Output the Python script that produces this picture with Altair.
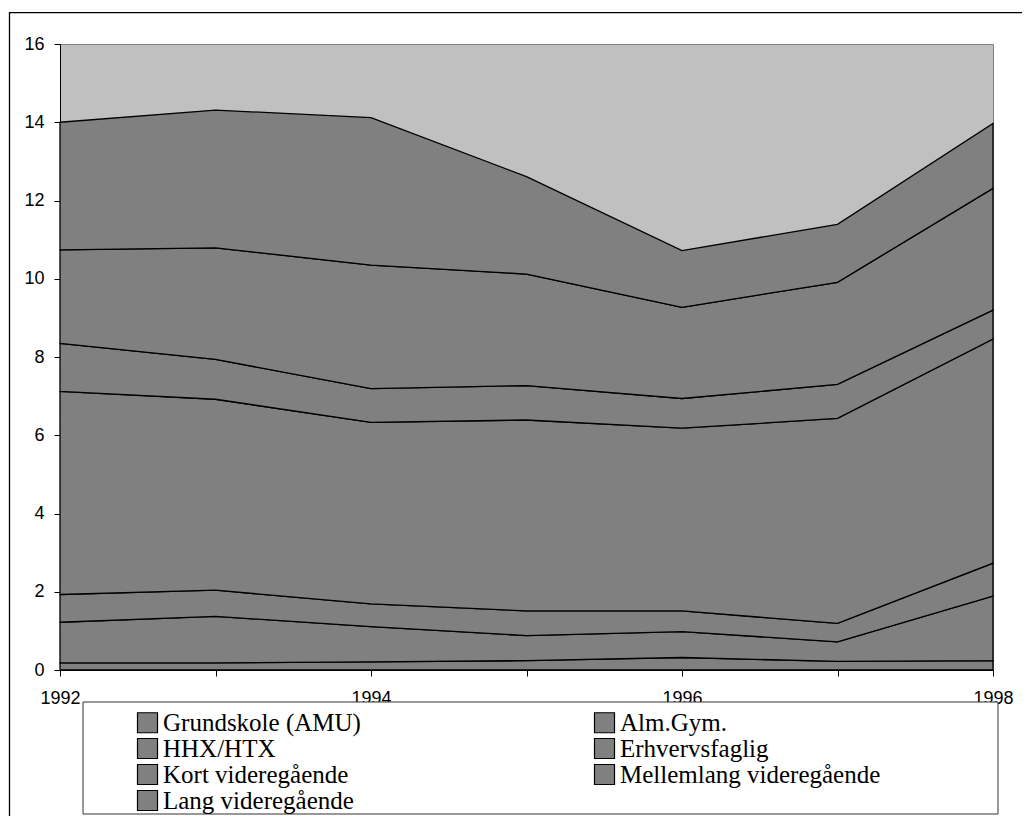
import altair as alt
import pandas as pd

years = [1992, 1993, 1994, 1995, 1996, 1997, 1998]
series = [
    "Grundskole (AMU)",
    "Alm.Gym.",
    "HHX/HTX",
    "Erhvervsfaglig",
    "Kort videregående",
    "Mellemlang videregående",
    "Lang videregående",
]
grundskole = [0.18, 0.18, 0.21, 0.24, 0.32, 0.22, 0.24]
alm_gym = [1.04, 1.19, 0.90, 0.64, 0.66, 0.50, 1.65]
hhx_htx = [0.71, 0.67, 0.58, 0.63, 0.53, 0.47, 0.84]
erhvervsfaglig = [5.19, 4.88, 4.64, 4.88, 4.67, 5.24, 5.73]
kort = [1.23, 1.02, 0.86, 0.88, 0.76, 0.87, 0.74]
mellemlang = [2.39, 2.85, 3.16, 2.85, 2.33, 2.61, 3.11]
lang = [3.26, 3.52, 3.77, 2.49, 1.45, 1.48, 1.66]
y_ticks = [0, 2, 4, 6, 8, 10, 12, 14, 16]

all_values = [grundskole, alm_gym, hhx_htx, erhvervsfaglig, kort, mellemlang, lang]
rows = []
for i, (name, vals) in enumerate(zip(series, all_values)):
    for yr, v in zip(years, vals):
        rows.append({"year": yr, "series": name, "value": v, "idx": i})
df = pd.DataFrame(rows)

one = pd.DataFrame({"a": [0]})

outer = alt.Chart(one).mark_rect(fillOpacity=0, stroke="black", strokeWidth=1.3).encode(
    x=alt.value(-50.5), x2=alt.value(1000), y=alt.value(-31.3), y2=alt.value(820)
)

area = alt.Chart(df).mark_area(stroke="black", strokeWidth=1.3, opacity=1).encode(
    x=alt.X(
        "year:Q",
        title=None,
        scale=alt.Scale(domain=[1992, 1998], nice=False, zero=False),
        axis=alt.Axis(
            values=years,
            format="d",
            labelExpr="datum.value % 2 == 0 ? datum.label : ''",
            grid=False,
            tickSize=6,
            labelPadding=13,
            labelFont="Liberation Sans",
            labelFontSize=18,
            labelColor="black",
            domainColor="black",
            tickColor="black",
            labelFlush=False,
            labelOverlap=False,
            labelBound=False,
        ),
    ),
    y=alt.Y(
        "value:Q",
        title=None,
        stack="zero",
        scale=alt.Scale(domain=[0, 16], nice=False),
        axis=alt.Axis(
            values=y_ticks,
            grid=False,
            tickSize=6,
            labelPadding=10,
            labelFont="Liberation Sans",
            labelFontSize=18,
            labelColor="black",
            domainColor="black",
            tickColor="black",
        ),
    ),
    color=alt.Color(
        "series:N",
        sort=series,
        scale=alt.Scale(domain=series, range=["#808080"] * 7),
        legend=alt.Legend(
            title=None,
            orient="none",
            direction="horizontal",
            legendX=75,
            legendY=666,
            columns=2,
            columnPadding=231,
            rowPadding=0,
            padding=0,
            symbolType="square",
            symbolSize=400,
            symbolFillColor="#808080",
            symbolStrokeColor="black",
            symbolStrokeWidth=1.2,
            symbolOpacity=1,
            labelFont="Liberation Serif",
            labelFontSize=25,
            labelColor="black",
            labelOffset=3,
            labelLimit=0,
            zindex=1,
        ),
    ),
    order=alt.Order("idx:Q", sort="ascending"),
)

legend_box = alt.Chart(one).mark_rect(fill="white", stroke="#333333", strokeWidth=1).encode(
    x=alt.value(23), x2=alt.value(938), y=alt.value(658), y2=alt.value(770)
)

chart = alt.layer(outer, area, legend_box).properties(
    width=933,
    height=626,
    autosize=alt.AutoSizeParams(type="none"),
    padding={"left": 52, "top": 36, "right": 29, "bottom": 146},
).configure_view(fill="#c0c0c0", stroke="#808080", strokeWidth=1)

chart.save("out.html", embed_options={"renderer": "svg", "actions": False})
